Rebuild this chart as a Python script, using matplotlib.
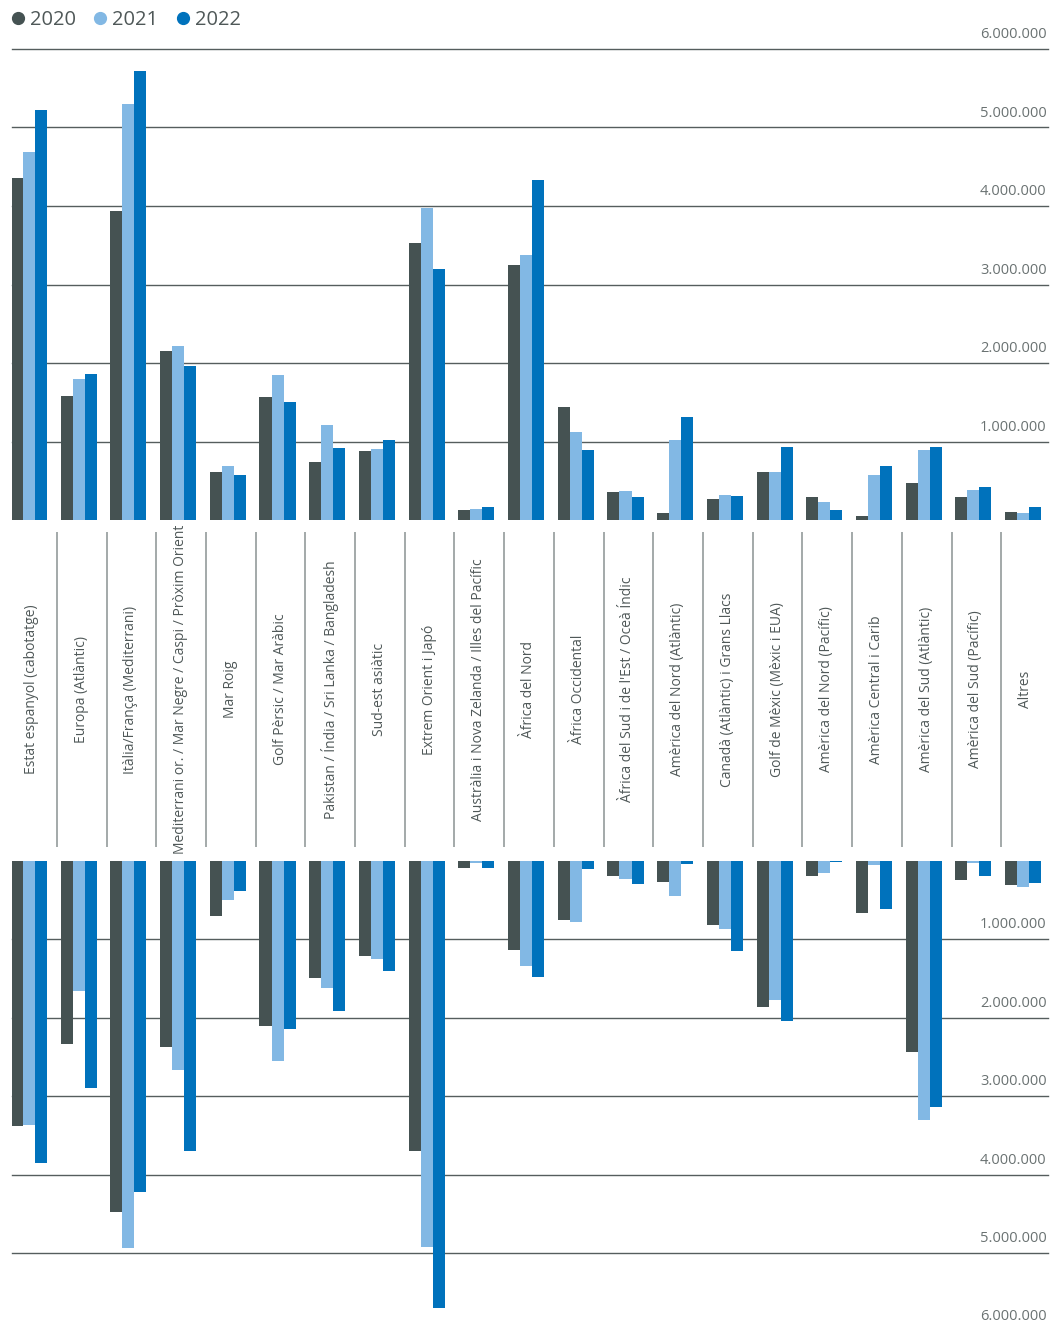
import matplotlib
matplotlib.use("Agg")
import matplotlib.pyplot as plt
from matplotlib.lines import Line2D
import numpy as np

plt.rcParams['font.family'] = ['Open Sans', 'DejaVu Sans']

categories = [
    "Estat espanyol (cabotatge)", "Europa (Atlàntic)", "Itàlia/França (Mediterrani)",
    "Mediterrani or. / Mar Negre / Caspi / Pròxim Orient", "Mar Roig",
    "Golf Pèrsic / Mar Aràbic", "Pakistan / Índia / Sri Lanka / Bangladesh",
    "Sud-est asiàtic", "Extrem Orient i Japó", "Austràlia i Nova Zelanda / Illes del Pacífic",
    "Àfrica del Nord", "Àfrica Occidental", "Àfrica del Sud i de l'Est / Oceà Índic",
    "Amèrica del Nord (Atlàntic)", "Canadà (Atlàntic) i Grans Llacs",
    "Golf de Mèxic (Mèxic i EUA)", "Amèrica del Nord (Pacífic)", "Amèrica Central i Carib",
    "Amèrica del Sud (Atlàntic)", "Amèrica del Sud (Pacífic)", "Altres",
]
years = ["2020", "2021", "2022"]

# upper panel (millions)
up_2020 = [4.36, 1.58, 3.94, 2.15, 0.61, 1.57, 0.74, 0.88, 3.53, 0.13, 3.25,
           1.44, 0.36, 0.09, 0.27, 0.61, 0.29, 0.05, 0.47, 0.29, 0.10]
up_2021 = [4.69, 1.80, 5.30, 2.22, 0.69, 1.85, 1.21, 0.90, 3.97, 0.14, 3.38,
           1.12, 0.37, 1.02, 0.32, 0.61, 0.23, 0.57, 0.89, 0.38, 0.09]
up_2022 = [5.22, 1.86, 5.72, 1.96, 0.57, 1.50, 0.92, 1.02, 3.20, 0.17, 4.33,
           0.89, 0.29, 1.31, 0.31, 0.93, 0.13, 0.69, 0.93, 0.42, 0.17]

# lower panel (millions)
down_2020 = [3.38, 2.33, 4.48, 2.37, 0.70, 2.10, 1.49, 1.21, 3.70, 0.09, 1.14,
             0.75, 0.19, 0.27, 0.82, 1.86, 0.19, 0.66, 2.44, 0.24, 0.31]
down_2021 = [3.37, 1.66, 4.94, 2.67, 0.50, 2.55, 1.62, 1.25, 4.92, 0.02, 1.34,
             0.78, 0.23, 0.45, 0.87, 1.77, 0.15, 0.05, 3.30, 0.03, 0.33]
down_2022 = [3.85, 2.90, 4.22, 3.70, 0.38, 2.14, 1.91, 1.40, 5.70, 0.09, 1.48,
             0.10, 0.29, 0.04, 1.15, 2.04, 0.01, 0.61, 3.14, 0.19, 0.28]

tick_vals = [1, 2, 3, 4, 5, 6]
tick_labels = ["1.000.000", "2.000.000", "3.000.000", "4.000.000", "5.000.000", "6.000.000"]

colors = ["#455252", "#82b8e4", "#0072bc"]
grid_col = "#555d5d"
text_col = "#4f5858"
tick_col = "#6a7272"

W, H = 1050, 1325
fig = plt.figure(figsize=(W / 100, H / 100), dpi=100)

x = np.arange(len(categories))
bw = 0.242
xlim = (-0.342, 20.50)
left, width = 12 / W, 1036 / W

# top panel
ax_up = fig.add_axes([left, (H - 520) / H, width, 471 / H])
ax_up.set_ylim(0, 6e6)
for k, vals in enumerate([up_2020, up_2021, up_2022]):
    ax_up.bar(x + (k - 1) * bw, np.array(vals) * 1e6, width=bw, color=colors[k], zorder=3)

# bottom panel
ax_dn = fig.add_axes([left, 0, width, 464 / H])
ax_dn.set_ylim(464 / 78.4 * 1e6, 0)
for k, vals in enumerate([down_2020, down_2021, down_2022]):
    ax_dn.bar(x + (k - 1) * bw, np.array(vals) * 1e6, width=bw, color=colors[k], zorder=3)

for ax in [ax_up, ax_dn]:
    ax.set_xlim(*xlim)
    for v, lab in zip(tick_vals, tick_labels):
        ax.axhline(v * 1e6, color=grid_col, lw=1.0, zorder=1, clip_on=False)
        ax.annotate(lab, xy=(1.0, v * 1e6), xycoords=ax.get_yaxis_transform(),
                    xytext=(-1, 5), textcoords="offset points", ha="right", va="bottom",
                    fontsize=10.5, color=tick_col, annotation_clip=False)
    ax.axis("off")

# middle label strip
ax_mid = fig.add_axes([left, (H - 847) / H, width, 315 / H])
ax_mid.set_xlim(*xlim)
ax_mid.set_ylim(0, 1)
ax_mid.vlines(x[:-1] + 0.56, 0, 1, color="#8a9292", lw=1.1)
for i, name in enumerate(categories):
    ax_mid.text(i + 0.05, 0.5, name, rotation=90, ha="center", va="center",
                fontsize=10, color=text_col)
ax_mid.axis("off")

handles = [Line2D([], [], marker="o", ls="", ms=8.5, color=c) for c in colors]
fig.legend(handles, years, loc="upper left", bbox_to_anchor=(10 / W, 1 - 10 / H), ncol=3,
           frameon=False, fontsize=14.5, handletextpad=0.2, columnspacing=0.8,
           handlelength=0.8, labelcolor=text_col, borderaxespad=0, borderpad=0)

fig.savefig("out.png", dpi=100)
